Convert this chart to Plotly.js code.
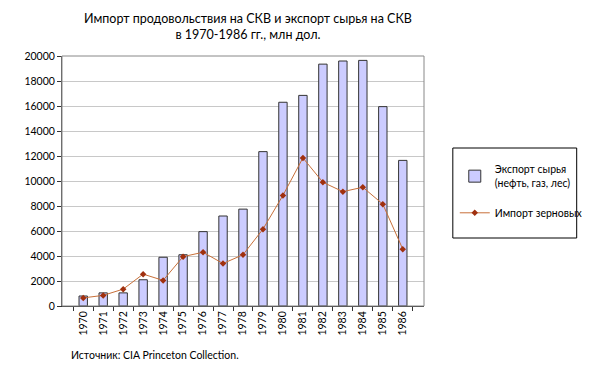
<!DOCTYPE html>
<html><head><meta charset="utf-8">
<script src="https://cdn.plot.ly/plotly-3.0.1.min.js"></script>
<style>body{margin:0;background:#fff}#c{width:600px;height:375px}</style>
</head><body><div id="c"></div>
<script>
const years = ["1970","1971","1972","1973","1974","1975","1976","1977","1978","1979","1980","1981","1982","1983","1984","1985","1986"];
const exportRaw = [800,1050,1050,2100,3900,4100,5950,7200,7750,12350,16300,16850,19350,19600,19650,15950,11650];
const importGrain = [650,850,1350,2550,2050,3950,4300,3400,4100,6150,8850,11850,9900,9150,9500,8150,4550];
const yTicks = [0,2000,4000,6000,8000,10000,12000,14000,16000,18000,20000];

const F = "Lato, 'Open Sans', sans-serif";
const data = [
  {type:'bar', x:years, y:exportRaw, name:'Экспорт сырья<br>(нефть, газ, лес)', legendgroup:'a',
   marker:{color:'#ccccff', line:{color:'#333333', width:1}}},
  {type:'scatter', mode:'lines+markers', x:years, y:importGrain, name:'Импорт зерновых', legendgroup:'b',
   line:{color:'#c8703a', width:1}, marker:{symbol:'diamond', size:5, color:'#a0300f'}}
];
const layout = {
  width:600, height:375,
  margin:{l:62, r:161, t:56, b:69},
  paper_bgcolor:'#fff', plot_bgcolor:'#fff',
  bargap:0.58,
  font:{family:F, size:10, color:'#000'},
  xaxis:{type:'category', tickangle:-90, ticks:'outside', tickson:'boundaries', ticklen:4,
    tickcolor:'#333', showline:true, linecolor:'#333', linewidth:1, mirror:false,
    tickfont:{family:F, size:10.5}, showgrid:false},
  yaxis:{range:[0,20000], tickvals:yTicks, ticktext:yTicks.map(String), ticks:'outside', ticklen:4,
    tickcolor:'#333', showline:true, linecolor:'#555', linewidth:1, gridcolor:'#c8c8c8',
    tickfont:{family:F, size:10.5}, zeroline:false},
  shapes:[
    {type:'rect', xref:'paper', yref:'paper', x0:0, x1:1, y0:0, y1:1, line:{color:'#888', width:1}},
    {type:'rect', xref:'paper', yref:'paper', x0:1.0796, x1:1.4218, y0:0.272, y1:0.632,
     line:{color:'#000', width:1}, fillcolor:'rgba(0,0,0,0)'}
  ],
  legend:{x:1.085, xanchor:'left', y:0.6, yanchor:'top', borderwidth:0,
    bgcolor:'rgba(0,0,0,0)', font:{family:F, size:10.5}, tracegroupgap:12, itemwidth:30},
  annotations:[
    {text:'Импорт продовольствия на СКВ и экспорт сырья на СКВ<br>в 1970-1986 гг., млн дол.',
     xref:'paper', yref:'paper', x:0.515, y:1.116, xanchor:'center', yanchor:'middle', showarrow:false,
     font:{family:F, size:12.5, color:'#000'}},
    {text:'Источник: CIA Princeton Collection.', xref:'paper', yref:'paper',
    x:0.018, y:-0.162, xanchor:'left', yanchor:'top', showarrow:false, font:{family:F, size:10.5}}],
  showlegend:true
};
Plotly.newPlot('c', data, layout, {displayModeBar:false});
</script></body></html>
